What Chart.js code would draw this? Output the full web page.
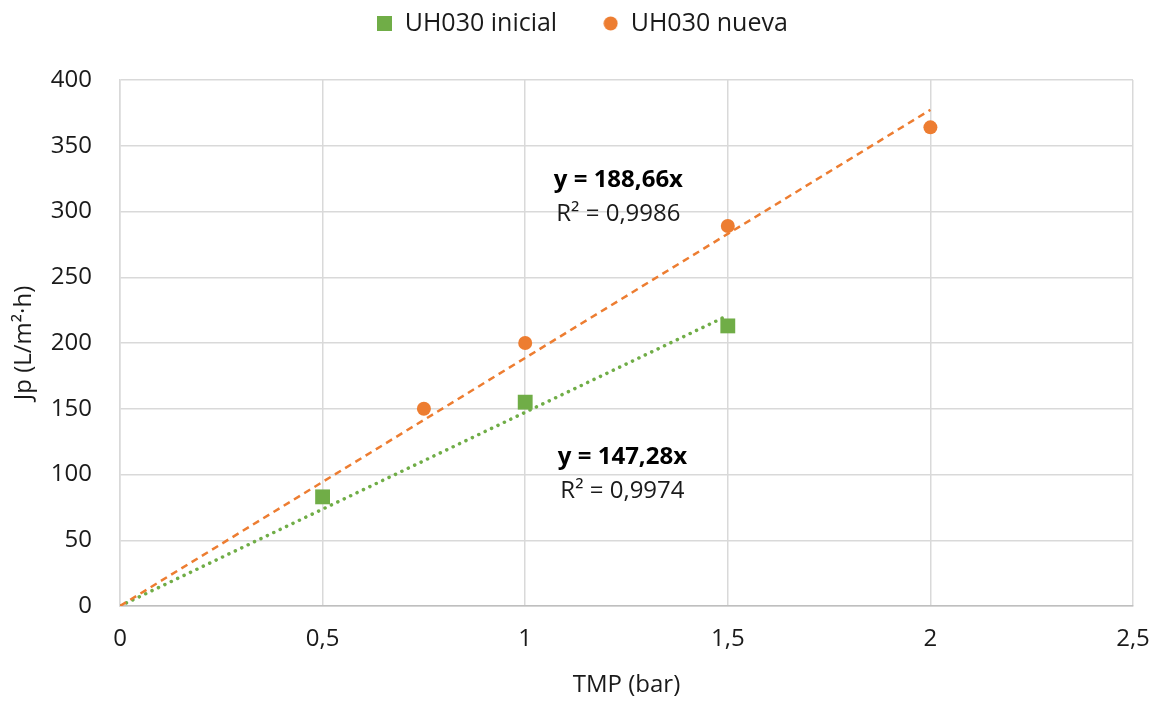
<!DOCTYPE html>
<html>
<head>
<meta charset="utf-8">
<script src="https://cdn.jsdelivr.net/npm/chart.js@4/dist/chart.umd.min.js"></script>
<style>
    html, body { margin: 0; padding: 0; background: #fff; }
    #wrap { width: 1159px; height: 704px; }
</style>
</head>
<body>
<div id="wrap"><canvas id="chart" width="1159" height="704"></canvas></div>
<script>
// Jp vs TMP, UH030 membranes

const initialX = [0.5, 1, 1.5];
const initialY = [83, 155, 213];
const nuevaX = [0.75, 1, 1.5, 2];
const nuevaY = [150, 200, 289, 364];

// linear fits through origin (from the chart labels)
const slopeInicial = 147.28;
const slopeNueva = 188.66;
const r2Inicial = '0,9974';
const r2Nueva = '0,9986';

const xTicks = [0, 0.5, 1, 1.5, 2, 2.5];
const yTicks = [0, 50, 100, 150, 200, 250, 300, 350, 400];

const GREEN = '#70AD47';
const ORANGE = '#ED7D31';
const FONT = '"Open Sans", "Noto Sans", sans-serif';
const TEXT = '#1a1a1a';

const toPoints = (xs, ys) => xs.map((x, i) => ({ x, y: ys[i] }));
const fitLine = (slope, xs) => [
    { x: 0, y: 0 },
    { x: Math.max(...xs), y: slope * Math.max(...xs) },
];
const fmt = v => String(v).replace('.', ',');

// small legend markers
function marker(kind, color) {
    const c = document.createElement('canvas');
    c.width = 15; c.height = 15;
    const g = c.getContext('2d');
    g.fillStyle = color;
    if (kind === 'rect') {
        g.fillRect(0, 0, 15, 15);
    } else {
        g.beginPath();
        g.arc(7.5, 7.5, 7, 0, Math.PI * 2);
        g.fill();
    }
    return c;
}
const legendMarkers = [marker('rect', GREEN), marker('circle', ORANGE)];

// --- equation labels drawn in data space ---
const equationLabels = {
    id: 'equationLabels',
    afterDatasetsDraw(chart, args, opts) {
        const { ctx, scales } = chart;
        ctx.save();
        ctx.textAlign = 'center';
        ctx.textBaseline = 'middle';
        opts.items.forEach(item => {
            const px = scales.x.getPixelForValue(item.x);
            const py = scales.y.getPixelForValue(item.y);
            ctx.fillStyle = '#000';
            ctx.font = 'bold 24px ' + FONT;
            ctx.fillText(item.eq, px, py);
            ctx.fillStyle = TEXT;
            ctx.font = '24px ' + FONT;
            ctx.fillText(item.r2, px, py + 34);
        });
        ctx.restore();
    }
};

// legend box: fixed height, nudged right a bit
const legendTweaks = {
    id: 'legendTweaks',
    afterInit(chart) {
        const legend = chart.legend;
        const origFit = legend.fit;
        legend.fit = function () {
            origFit.call(this);
            this.height = 115;
        };
    },
    afterLayout(chart) {
        chart.legend.left += 16;
        chart.legend.right += 16;
    },
};

new Chart(document.getElementById('chart'), {
    type: 'scatter',
    data: {
        datasets: [
            {
                label: 'UH030 inicial',
                data: toPoints(initialX, initialY),
                pointStyle: 'rect',
                pointRadius: 10.5,
                backgroundColor: GREEN,
                borderColor: GREEN,
                borderWidth: 0,
            },
            {
                label: 'UH030 nueva',
                data: toPoints(nuevaX, nuevaY),
                pointStyle: 'circle',
                pointRadius: 7,
                backgroundColor: ORANGE,
                borderColor: ORANGE,
                borderWidth: 0,
            },
            {
                label: 'trend nueva',
                type: 'line',
                data: fitLine(slopeNueva, nuevaX),
                borderColor: ORANGE,
                borderWidth: 2.5,
                borderDash: [7, 5],
                pointRadius: 0,
                fill: false,
            },
            {
                label: 'trend inicial',
                type: 'line',
                data: fitLine(slopeInicial, initialX),
                borderColor: GREEN,
                borderWidth: 3.5,
                borderDash: [0.1, 7],
                borderCapStyle: 'round',
                pointRadius: 0,
                fill: false,
            },
        ],
    },
    options: {
        responsive: false,
        animation: false,
        layout: { padding: { left: 0, right: 26, top: -35, bottom: 0 } },
        plugins: {
            tooltip: { enabled: false },
            legend: {
                position: 'top',
                labels: {
                    usePointStyle: true,
                    boxWidth: 15,
                    boxHeight: 15,
                    padding: 46,
                    color: TEXT,
                    font: { family: FONT, size: 25 },
                    generateLabels(chart) {
                        const items = Chart.defaults.plugins.legend.labels.generateLabels(chart);
                        return items
                            .filter(it => !it.text.startsWith('trend'))
                            .map((it, i) => Object.assign(it, { pointStyle: legendMarkers[i] }));
                    },
                },
            },
            equationLabels: {
                items: [
                    { x: 1.23, y: 324, eq: 'y = ' + fmt(slopeNueva) + 'x', r2: 'R² = ' + r2Nueva },
                    { x: 1.24, y: 113, eq: 'y = ' + fmt(slopeInicial) + 'x', r2: 'R² = ' + r2Inicial },
                ],
            },
        },
        scales: {
            x: {
                type: 'linear',
                min: 0,
                max: 2.5,
                afterBuildTicks: axis => { axis.ticks = xTicks.map(v => ({ value: v })); },
                afterFit: axis => {
                    axis.height = 98;
                    axis.paddingLeft = 0;
                    axis.paddingRight = 0;
                },
                grid: { color: '#d9d9d9', lineWidth: 1.5, drawTicks: false },
                border: { color: '#bfbfbf', width: 1.5 },
                ticks: {
                    padding: 19,
                    color: TEXT,
                    font: { family: FONT, size: 24 },
                    callback: v => fmt(v),
                },
                title: {
                    display: true,
                    text: 'TMP (bar)',
                    color: TEXT,
                    font: { family: FONT, size: 24 },
                    padding: { top: 10, bottom: 4 },
                },
            },
            y: {
                type: 'linear',
                min: 0,
                max: 400,
                afterBuildTicks: axis => { axis.ticks = yTicks.map(v => ({ value: v })); },
                afterFit: axis => { axis.width = 120; },
                grid: { color: '#d9d9d9', lineWidth: 1.5, drawTicks: false },
                border: { color: '#d9d9d9', width: 1.5 },
                ticks: {
                    padding: 28,
                    color: TEXT,
                    font: { family: FONT, size: 24 },
                },
                title: {
                    display: true,
                    text: 'Jp (L/m²·h)',
                    color: TEXT,
                    font: { family: FONT, size: 24 },
                    padding: { top: 10, bottom: 0 },
                },
            },
        },
    },
    plugins: [equationLabels, legendTweaks],
});
</script>
</body>
</html>
